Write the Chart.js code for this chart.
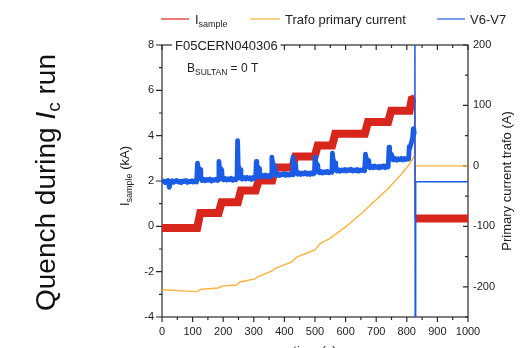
<!DOCTYPE html>
<html>
<head>
<meta charset="utf-8">
<script src="https://cdn.jsdelivr.net/npm/chart.js@4"></script>
<style>
  html, body { margin: 0; padding: 0; background: #fff; overflow: hidden; }
  #wrap { width: 522px; height: 348px; position: relative; }
</style>
</head>
<body>
<div id="wrap"><canvas id="c" width="522" height="348"></canvas></div>
<script>
// Time axis (s) and axis tick labels
const timeTicks = [0, 100, 200, 300, 400, 500, 600, 700, 800, 900, 1000];
const sampleTicks = [-4, -2, 0, 2, 4, 6, 8];          // I_sample (kA)
const trafoTicks = [-200, -100, 0, 100, 200];         // primary current trafo (A)

// I_sample (kA): current plateaus during the Ic run, quench near 826 s
const sampleTime = [0, 115, 125, 185, 195, 248, 258, 306, 316, 360, 370, 426, 436, 499, 509, 556, 566, 663, 673, 739, 749, 809, 816, 826, 827, 1000];
const sampleKA   = [-0.07, -0.07, 0.59, 0.59, 1.06, 1.06, 1.58, 1.58, 2.02, 2.02, 2.6, 2.6, 3.08, 3.08, 3.57, 3.57, 4.08, 4.08, 4.6, 4.6, 5.1, 5.1, 5.6, 5.65, 0.35, 0.35];

// Trafo primary current (A)
const trafoTime = [0, 113, 129, 184, 195, 244, 255, 304, 315, 358, 369, 424, 440, 500, 516, 549, 600, 658, 674, 700, 734, 749, 780, 809, 825, 827, 1000];
const trafoAmp  = [-205, -208, -204, -202, -199, -197, -192, -187, -183, -174, -170, -159, -151, -139, -129, -120, -101, -76, -68, -56, -40, -32, -15, 3, 17, 0, 0];

// V6-V7 signal (plotted on the kA scale)
const v67Time = [
  0, 5, 10, 15, 20, 24, 28, 33, 38, 43, 48, 53, 58, 63, 68, 73, 78, 83, 88, 93, 98, 103, 108, 113,
  116, 118, 122, 125, 127,
  131, 136, 141, 146, 151, 156, 161, 166, 171, 176, 181, 184,
  186, 188, 192, 195, 197,
  201, 206, 211, 216, 221, 226, 231, 236, 241, 245,
  247, 249, 252, 256, 258,
  262, 267, 272, 277, 282, 287, 292, 297, 302, 306,
  308, 310, 314, 317, 319,
  323, 328, 333, 338, 343, 348, 353, 357,
  359, 361, 365, 369, 371,
  375, 380, 385, 390, 395, 400, 405, 410, 415, 420, 425,
  428, 430, 434, 437, 439,
  443, 448, 453, 458, 463, 468, 473, 478, 483, 488, 493, 498,
  500, 502, 506, 509, 511,
  515, 520, 525, 530, 535, 540, 545, 550, 555,
  557, 559, 563, 566, 568,
  572, 577, 582, 587, 592, 597, 602, 607, 612, 617, 622, 627, 632, 637, 642, 647, 652, 657, 662,
  665, 667, 671, 674, 676,
  680, 685, 690, 695, 700, 705, 710, 715, 720, 725, 730, 735, 739,
  742, 744, 748, 751, 753,
  757, 762, 767, 772, 777, 782, 787, 792, 797, 802, 806,
  808, 810, 813, 816, 819, 821, 823, 825,
  826.5, 827.5, 829, 1000
];
const v67Value = [
  1.95, 2.0, 1.93, 1.99, 2.02, 1.72, 1.97, 2.01, 1.94, 1.99, 2.02, 1.95, 1.99, 1.93, 2.0, 1.97, 2.02, 1.94, 1.99, 1.96, 2.01, 1.95, 2.0, 1.96,
  2.79, 2.6, 2.55, 2.5, 2.1,
  2.02, 2.08, 2.01, 2.07, 2.03, 2.09, 2.0, 2.06, 2.03, 2.08, 2.02, 2.05,
  2.86, 2.6, 2.55, 2.5, 2.12,
  2.05, 2.11, 2.04, 2.1, 2.06, 2.12, 2.03, 2.09, 2.05, 2.1,
  3.78, 2.7, 2.55, 2.5, 2.12,
  2.08, 2.15, 2.09, 2.16, 2.1, 2.14, 2.07, 2.15, 2.1, 2.13,
  2.86, 2.7, 2.6, 2.55, 2.22,
  2.18, 2.25, 2.19, 2.26, 2.2, 2.24, 2.18, 2.23,
  3.05, 2.85, 2.7, 2.65, 2.3,
  2.25, 2.31, 2.24, 2.3, 2.27, 2.33, 2.25, 2.3, 2.26, 2.32, 2.27,
  3.05, 2.85, 2.75, 2.7, 2.35,
  2.3, 2.36, 2.29, 2.35, 2.31, 2.37, 2.3, 2.35, 2.29, 2.36, 2.31, 2.34,
  3.05, 2.85, 2.75, 2.7, 2.4,
  2.36, 2.42, 2.35, 2.41, 2.37, 2.43, 2.36, 2.41, 2.38,
  3.23, 2.95, 2.85, 2.8, 2.5,
  2.44, 2.5, 2.43, 2.49, 2.45, 2.51, 2.44, 2.5, 2.46, 2.52, 2.44, 2.49, 2.45, 2.51, 2.43, 2.49, 2.46, 2.5, 2.45,
  3.18, 3.0, 2.95, 2.9, 2.62,
  2.58, 2.65, 2.59, 2.66, 2.6, 2.64, 2.58, 2.65, 2.61, 2.67, 2.59, 2.64, 2.62,
  3.49, 3.25, 3.2, 3.15, 2.95,
  2.93, 2.99, 2.92, 2.98, 2.94, 3.0, 2.93, 2.99, 2.95, 3.01, 2.97,
  3.52, 3.45, 3.6, 3.75, 3.9, 4.3, 4.05, 4.2,
  9, -5, 1.97, 1.97
];

const RED = '#d8261d', ORANGE = '#ffb23c', BLUE = '#1b5ce6';
const FONT = '"Liberation Sans", Arial, sans-serif';
const INK = '#222';

const pts = (xs, ys) => xs.map((x, i) => ({ x, y: ys[i] }));

// draws a run of text pieces (with subscripts) starting at x or centred on x
function drawRuns(ctx, parts, x, y, align) {
  let total = 0;
  parts.forEach(p => {
    ctx.font = (p.italic ? 'italic ' : '') + p.size + 'px ' + FONT;
    p.w = ctx.measureText(p.t).width;
    total += p.w;
  });
  let cx = align === 'center' ? x - total / 2 : x;
  ctx.textAlign = 'left';
  ctx.textBaseline = 'alphabetic';
  parts.forEach(p => {
    ctx.font = (p.italic ? 'italic ' : '') + p.size + 'px ' + FONT;
    ctx.fillText(p.t, cx, y + (p.dy || 0));
    cx += p.w;
  });
}

const decor = {
  id: 'decor',
  beforeDatasetsDraw(chart) {
    const { ctx, chartArea: a, scales } = chart;
    ctx.save();
    ctx.strokeStyle = '#2a2a2a';
    ctx.lineWidth = 1.2;
    ctx.strokeRect(a.left, a.top, a.right - a.left, a.bottom - a.top);
    ctx.beginPath();
    for (let v = 0; v <= 1000; v += 50) {
      const px = scales.x.getPixelForValue(v);
      const len = v % 100 === 0 ? 5 : 3;
      ctx.moveTo(px, a.bottom); ctx.lineTo(px, a.bottom + len);
      ctx.moveTo(px, a.top); ctx.lineTo(px, a.top + len);
    }
    for (let v = -4; v <= 8; v += 1) {
      const py = scales.y.getPixelForValue(v);
      const len = v % 2 === 0 ? 6 : 3;
      ctx.moveTo(a.left, py); ctx.lineTo(a.left - len, py);
    }
    for (let v = -250; v <= 200; v += 50) {
      const py = scales.y2.getPixelForValue(v);
      const len = v % 100 === 0 ? 5 : 3;
      ctx.moveTo(a.right, py); ctx.lineTo(a.right - len, py);
    }
    ctx.stroke();
    ctx.restore();
  },
  afterDraw(chart) {
    const { ctx, chartArea: a } = chart;
    ctx.save();
    ctx.fillStyle = INK;

    // sample label sitting on the top frame
    ctx.font = '13px ' + FONT;
    const label = 'F05CERN040306';
    const lw = ctx.measureText(label).width;
    ctx.fillStyle = '#fff';
    ctx.fillRect(172, a.top - 7, lw + 6, 14);
    ctx.fillStyle = INK;
    drawRuns(ctx, [{ t: label, size: 13 }], 175, a.top + 4.6);

    drawRuns(ctx, [
      { t: 'B', size: 12 },
      { t: 'SULTAN', size: 8.5, dy: 3.5 },
      { t: ' = 0 T', size: 12 }
    ], 187, 71.5);

    // legend
    const legend = [
      { color: RED, x0: 161, x1: 189, parts: [{ t: 'I', size: 13 }, { t: 'sample', size: 9, dy: 3 }], tx: 195 },
      { color: ORANGE, x0: 250, x1: 280, parts: [{ t: 'Trafo primary current', size: 13 }], tx: 285 },
      { color: BLUE, x0: 437, x1: 465, parts: [{ t: 'V6-V7', size: 13 }], tx: 470 }
    ];
    legend.forEach(it => {
      ctx.strokeStyle = it.color;
      ctx.lineWidth = 1.2;
      ctx.beginPath(); ctx.moveTo(it.x0, 19); ctx.lineTo(it.x1, 19); ctx.stroke();
      drawRuns(ctx, it.parts, it.tx, 24);
    });

    // axis titles
    drawRuns(ctx, [{ t: 'time (s)', size: 13 }], (a.left + a.right) / 2, 355, 'center');

    ctx.save();
    ctx.translate(129, 176);
    ctx.rotate(-Math.PI / 2);
    drawRuns(ctx, [{ t: 'I', size: 13 }, { t: 'sample', size: 9, dy: 3 }, { t: ' (kA)', size: 13 }], 0, 0, 'center');
    ctx.restore();

    ctx.save();
    ctx.translate(511, 181);
    ctx.rotate(-Math.PI / 2);
    drawRuns(ctx, [{ t: 'Primary current trafo (A)', size: 13 }], 0, 0, 'center');
    ctx.restore();

    // side heading
    ctx.save();
    ctx.fillStyle = '#111';
    ctx.translate(55, 182.5);
    ctx.rotate(-Math.PI / 2);
    drawRuns(ctx, [
      { t: 'Quench during ', size: 28 },
      { t: 'I', size: 28, italic: true },
      { t: 'c', size: 19, dy: 5 },
      { t: ' run', size: 28 }
    ], 0, 0, 'center');
    ctx.restore();

    ctx.restore();
  }
};

const tickFont = { family: FONT, size: 11 };

new Chart(document.getElementById('c'), {
  type: 'line',
  data: {
    datasets: [
      {
        label: 'I_sample',
        data: pts(sampleTime, sampleKA),
        yAxisID: 'y',
        borderColor: RED,
        borderWidth: 8,
        borderJoinStyle: 'miter',
        pointRadius: 0,
        tension: 0,
        clip: 0,
        order: 2,
        segment: {
          borderWidth: c => (c.p0.parsed.x >= 826 && c.p1.parsed.x <= 827) ? 1.2 : undefined
        }
      },
      {
        label: 'Trafo primary current',
        data: pts(trafoTime, trafoAmp),
        yAxisID: 'y2',
        borderColor: ORANGE,
        borderWidth: 1.4,
        pointRadius: 0,
        tension: 0,
        clip: 0,
        order: 1
      },
      {
        label: 'V6-V7',
        data: pts(v67Time, v67Value),
        yAxisID: 'y',
        borderColor: BLUE,
        borderWidth: 4.8,
        borderJoinStyle: 'round',
        pointRadius: 0,
        tension: 0,
        clip: 0,
        order: 0,
        segment: {
          borderWidth: c => c.p0.parsed.x >= 825 ? 1.5 : undefined
        }
      }
    ]
  },
  options: {
    responsive: false,
    animation: false,
    devicePixelRatio: 1,
    layout: { padding: { top: 45, left: 0, right: 0, bottom: 0 } },
    plugins: { legend: { display: false }, tooltip: { enabled: false } },
    scales: {
      x: {
        type: 'linear',
        min: 0, max: 1000,
        grid: { display: false, drawTicks: false },
        border: { display: false },
        afterBuildTicks: s => { s.ticks = timeTicks.map(v => ({ value: v })); },
        afterFit: s => { s.height = 31; },
        ticks: { font: tickFont, color: INK, padding: 8, maxRotation: 0, autoSkip: false, callback: v => String(v) }
      },
      y: {
        type: 'linear',
        position: 'left',
        min: -4, max: 8,
        grid: { display: false, drawTicks: false },
        border: { display: false },
        afterBuildTicks: s => { s.ticks = sampleTicks.map(v => ({ value: v })); },
        afterFit: s => { s.width = 162; },
        ticks: { font: tickFont, color: INK, padding: 8, autoSkip: false, callback: v => String(v) }
      },
      y2: {
        type: 'linear',
        position: 'right',
        min: -250, max: 200,
        grid: { display: false, drawTicks: false },
        border: { display: false },
        afterBuildTicks: s => { s.ticks = trafoTicks.map(v => ({ value: v })); },
        afterFit: s => { s.width = 54; },
        ticks: { font: tickFont, color: INK, padding: 5, autoSkip: false, callback: v => String(v) }
      }
    }
  },
  plugins: [decor]
});
</script>
</body>
</html>
